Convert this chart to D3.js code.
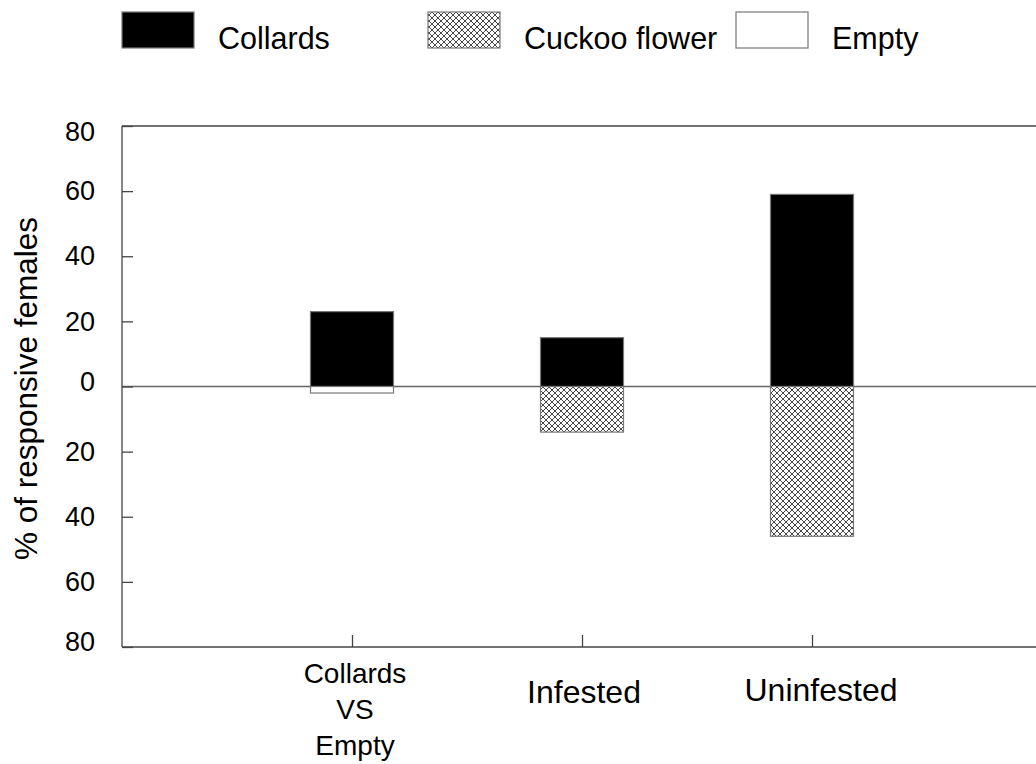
<!DOCTYPE html>
<html>
<head>
<meta charset="utf-8">
<script src="https://cdn.jsdelivr.net/npm/d3@7"></script>
<style>
  html, body { margin: 0; padding: 0; background: #fff; }
  svg { display: block; font-family: "Liberation Sans", Arial, sans-serif; }
</style>
</head>
<body>
<svg id="chart" width="1036" height="764"></svg>
<script>
// Choice tests: share of responsive females choosing each odour source
const categories = ["Collards VS Empty", "Infested", "Uninfested"];
const categoryLines = [["Collards", "VS", "Empty"], ["Infested"], ["Uninfested"]];
const collards = [23, 15, 59];      // drawn upward
const cuckooFlower = [0, 14, 46];   // drawn downward
const empty = [2, 0, 0];            // drawn downward
const yTicks = [80, 60, 40, 20, 0, -20, -40, -60, -80];
const legendItems = ["Collards", "Cuckoo flower", "Empty"];

const svg = d3.select("#chart");
const W = 1036;

const x = d3.scaleLinear().domain([0, 4]).range([122, 1042]);
const y = d3.scaleLinear().domain([-80, 80]).range([647, 126]);
const barW = 83;
const axisColor = "#444";

// crosshatch fill
const defs = svg.append("defs");
const pat = defs.append("pattern")
  .attr("id", "hatch")
  .attr("patternUnits", "userSpaceOnUse")
  .attr("width", 6).attr("height", 6);
pat.append("rect").attr("width", 6).attr("height", 6).attr("fill", "#fff");
pat.append("path")
  .attr("d", "M0,0L6,6M6,0L0,6")
  .attr("stroke", "#333").attr("stroke-width", 0.9).attr("fill", "none");

const fills = { Collards: "#000", "Cuckoo flower": "url(#hatch)", Empty: "#fff" };

// frame lines
const frame = svg.append("g").attr("stroke", axisColor).attr("stroke-width", 1.3);
frame.append("line").attr("x1", x(0)).attr("x2", W).attr("y1", y(80)).attr("y2", y(80));
frame.append("line").attr("x1", x(0)).attr("x2", W).attr("y1", y(-80)).attr("y2", y(-80));
frame.append("line").attr("x1", x(0)).attr("x2", x(0)).attr("y1", y(80)).attr("y2", y(-80));
frame.append("line").attr("x1", x(0)).attr("x2", W).attr("y1", y(0)).attr("y2", y(0))
  .attr("stroke", "#666");

// y axis
const yAxis = d3.axisLeft(y)
  .tickValues(yTicks)
  .tickFormat(d => Math.abs(d))
  .tickSizeInner(-11)
  .tickSizeOuter(0)
  .tickPadding(27);
const gy = svg.append("g").attr("transform", `translate(${x(0)},0)`).call(yAxis);
gy.select(".domain").remove();
gy.selectAll(".tick line").attr("stroke", axisColor).attr("stroke-width", 1.3);
// end labels sit just inside the frame; the zero label rides slightly above its line
const labelNudge = d => (d === 80 ? 6 : d === -80 || d === 0 ? -5 : 0);
gy.selectAll(".tick text")
  .attr("font-size", 27)
  .attr("fill", "#000")
  .attr("y", d => labelNudge(d))
  .attr("font-family", "Liberation Sans, Arial, sans-serif");

// x axis ticks (inward)
const xAxis = d3.axisBottom(x)
  .tickValues([1, 2, 3])
  .tickFormat("")
  .tickSizeInner(-12)
  .tickSizeOuter(0);
const gx = svg.append("g").attr("transform", `translate(0,${y(-80)})`).call(xAxis);
gx.select(".domain").remove();
gx.selectAll(".tick line").attr("stroke", axisColor).attr("stroke-width", 1.3);

// category labels
const labelSpec = [
  { dx: 3, y0: 683, size: 28, step: 36 },
  { dx: 2, y0: 703, size: 32, step: 36 },
  { dx: 9, y0: 701, size: 32, step: 36 }
];
categoryLines.forEach((lines, i) => {
  const s = labelSpec[i];
  const t = svg.append("text")
    .attr("text-anchor", "middle")
    .attr("font-size", s.size)
    .attr("fill", "#000");
  lines.forEach((ln, j) => {
    t.append("tspan")
      .attr("x", x(i + 1) + s.dx)
      .attr("y", s.y0 + j * s.step)
      .text(ln);
  });
});

// bars
const bars = svg.append("g").attr("stroke", "#777").attr("stroke-width", 1.2);
categories.forEach((c, i) => {
  const cx = x(i + 1);
  if (collards[i] > 0) {
    bars.append("rect")
      .attr("x", cx - barW / 2).attr("width", barW)
      .attr("y", y(collards[i])).attr("height", y(0) - y(collards[i]))
      .attr("fill", fills.Collards);
  }
  if (cuckooFlower[i] > 0) {
    bars.append("rect")
      .attr("x", cx - barW / 2).attr("width", barW)
      .attr("y", y(0)).attr("height", y(-cuckooFlower[i]) - y(0))
      .attr("fill", fills["Cuckoo flower"]);
  }
  if (empty[i] > 0) {
    bars.append("rect")
      .attr("x", cx - barW / 2).attr("width", barW)
      .attr("y", y(0)).attr("height", y(-empty[i]) - y(0))
      .attr("fill", fills.Empty);
  }
});

// y title
svg.append("text")
  .attr("transform", `translate(37,${y(0) + 2}) rotate(-90)`)
  .attr("text-anchor", "middle")
  .attr("font-size", 31.5)
  .attr("fill", "#000")
  .text("% of responsive females");

// legend
const legendX = [122, 428, 736];
const legend = svg.append("g");
legendItems.forEach((name, i) => {
  legend.append("rect")
    .attr("x", legendX[i]).attr("y", 12)
    .attr("width", 72).attr("height", 36)
    .attr("fill", fills[name])
    .attr("stroke", "#777").attr("stroke-width", 1.2);
  legend.append("text")
    .attr("x", legendX[i] + 96).attr("y", 49)
    .attr("font-size", 30.5)
    .attr("fill", "#000")
    .text(name);
});
</script>
</body>
</html>
